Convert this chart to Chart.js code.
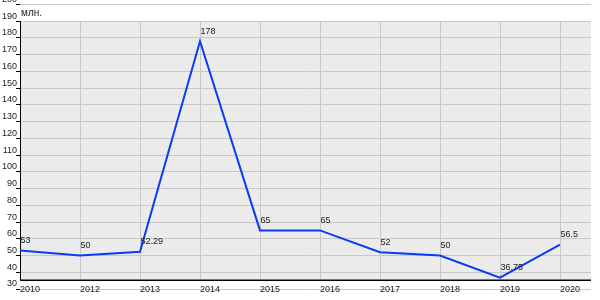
<!DOCTYPE html>
<html>
<head>
<meta charset="utf-8">
<script src="https://cdn.jsdelivr.net/npm/chart.js@4/dist/chart.umd.min.js"></script>
<style>
  html, body { margin: 0; padding: 0; background: #ffffff; }
  #wrap { width: 600px; height: 300px; }
</style>
</head>
<body>
<div id="wrap"><canvas id="c" width="600" height="300"></canvas></div>
<script>
// ---- data ----
const years = ['2010', '2012', '2013', '2014', '2015', '2016', '2017', '2018', '2019', '2020'];
const values = [53, 50, 52.29, 178, 65, 65, 52, 50, 36.75, 56.5];
const valueLabels = ['53', '50', '52.29', '178', '65', '65', '52', '50', '36.75', '56.5'];
const unitLabel = 'млн.';
const yMin = 30;
const yMax = 200;
const yStep = 10;
const plotTopValue = 190;   // top of the grey plotting panel
const axisValue = 35.2;     // where the x axis line sits on the y scale

const FONT = 'Arial, "Liberation Sans", sans-serif';

const panelPlugin = {
  id: 'panel',
  beforeDraw(chart) {
    const { ctx, chartArea, scales } = chart;
    const x = scales.x, y = scales.y;
    const top = y.getPixelForValue(plotTopValue);
    const bottom = y.getPixelForValue(axisValue);
    ctx.save();
    ctx.fillStyle = '#ebebeb';
    ctx.fillRect(chartArea.left, top, chartArea.right - chartArea.left, bottom - top);
    ctx.strokeStyle = '#c8c8c8';
    ctx.lineWidth = 1;
    years.forEach((_, i) => {
      const px = Math.round(x.getPixelForValue(i)) + 0.5;
      ctx.beginPath();
      ctx.moveTo(px, top);
      ctx.lineTo(px, bottom);
      ctx.stroke();
    });
    ctx.restore();
  },
  beforeDatasetsDraw(chart) {
    const { ctx, chartArea, scales } = chart;
    const y = scales.y;
    const top = y.getPixelForValue(plotTopValue);
    const bottom = y.getPixelForValue(axisValue);
    ctx.save();
    ctx.strokeStyle = '#000000';
    ctx.lineWidth = 1;
    ctx.beginPath();
    ctx.moveTo(chartArea.left + 0.5, top);
    ctx.lineTo(chartArea.left + 0.5, bottom);
    ctx.stroke();
    ctx.lineWidth = 1.5;
    ctx.beginPath();
    ctx.moveTo(chartArea.left, bottom);
    ctx.lineTo(chartArea.right, bottom);
    ctx.stroke();
    ctx.restore();
  },
  afterDatasetsDraw(chart) {
    const { ctx, chartArea, scales } = chart;
    const meta = chart.getDatasetMeta(0);
    ctx.save();
    ctx.fillStyle = '#222222';
    ctx.font = '9px ' + FONT;
    ctx.textAlign = 'left';
    ctx.textBaseline = 'middle';
    meta.data.forEach((pt, i) => {
      ctx.fillText(valueLabels[i], pt.x + 0.5, pt.y - 10);
    });
    ctx.font = '10px ' + FONT;
    ctx.textBaseline = 'alphabetic';
    ctx.fillText(unitLabel, chartArea.left + 1, scales.y.getPixelForValue(plotTopValue) - 5);
    ctx.restore();
  }
};

new Chart(document.getElementById('c'), {
  type: 'line',
  data: {
    datasets: [{
      data: years.map((_, i) => ({ x: i, y: values[i] })),
      borderColor: '#0a3cf5',
      borderWidth: 2,
      pointRadius: 0,
      tension: 0,
      fill: false
    }]
  },
  options: {
    responsive: false,
    animation: false,
    layout: { padding: { top: 4, right: 9, bottom: 11, left: 0 } },
    plugins: { legend: { display: false }, tooltip: { enabled: false } },
    scales: {
      x: {
        type: 'linear',
        position: { y: axisValue },
        min: 0,
        max: 9.517,
        grid: { display: false, drawTicks: false },
        border: { display: false },
        ticks: {
          stepSize: 1,
          includeBounds: false,
          autoSkip: false,
          maxRotation: 0,
          minRotation: 0,
          align: 'start',
          padding: 3.5,
          color: '#222222',
          font: { family: FONT, size: 9 },
          callback: (v) => years[v] !== undefined ? years[v] : ''
        }
      },
      y: {
        min: yMin,
        max: yMax,
        afterFit: (s) => { s.width = 20; },
        grid: { color: '#c8c8c8', lineWidth: 1, tickColor: '#000000', tickLength: 4, drawTicks: true },
        border: { display: false },
        ticks: {
          stepSize: yStep,
          padding: -1,
          labelOffset: -5,
          color: '#222222',
          font: { family: FONT, size: 9 }
        }
      }
    }
  },
  plugins: [panelPlugin]
});
</script>
</body>
</html>
